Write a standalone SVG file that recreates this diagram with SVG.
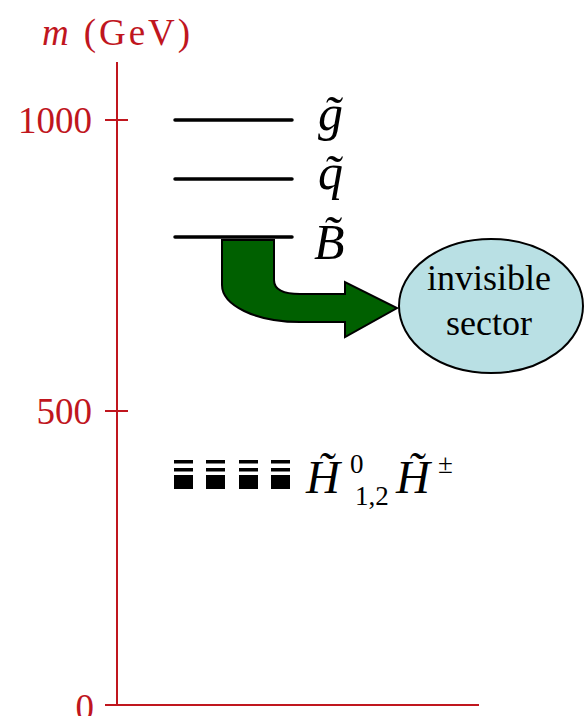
<svg xmlns="http://www.w3.org/2000/svg" width="585" height="716" viewBox="0 0 585 716">
<style>
.ax{stroke:#c0161e;stroke-width:2;fill:none}
.axt{fill:#c0161e;font-family:"Liberation Serif",serif;font-size:37px}
.lvl{stroke:#000;stroke-width:3.5;stroke-linecap:round}
.lab{fill:#000;font-family:"Liberation Serif",serif;font-style:italic;font-size:50px}
.hl{fill:#000;font-family:"Liberation Serif",serif;font-style:italic;font-size:47px}
.sc{fill:#000;font-family:"Liberation Serif",serif;font-size:27px}
.inv{fill:#000;font-family:"Liberation Serif",serif;font-size:36px;text-anchor:middle}
</style>
<rect width="585" height="716" fill="#fff"/>
<g id="axis">
<line class="ax" x1="117" y1="62" x2="117" y2="705"/>
<line class="ax" x1="105" y1="705" x2="479" y2="705"/>
<line class="ax" x1="105" y1="120" x2="128" y2="120"/>
<line class="ax" x1="105" y1="411" x2="128" y2="411"/>
<text class="axt" x="42" y="45" textLength="148" lengthAdjust="spacing"><tspan font-style="italic">m</tspan> (GeV)</text>
<text class="axt" x="92" y="133" text-anchor="end">1000</text>
<text class="axt" x="92" y="424" text-anchor="end">500</text>
<text class="axt" x="94" y="720" text-anchor="end">0</text>
</g>
<g id="gluino">
<line class="lvl" x1="175" y1="120" x2="292" y2="120"/>
<text class="lab" x="318" y="130">g&#x303;</text>
</g>
<g id="squark">
<line class="lvl" x1="175" y1="179" x2="292" y2="179"/>
<text class="lab" x="318" y="189">q&#x303;</text>
</g>
<g id="bino">
<line class="lvl" x1="175" y1="237" x2="292" y2="237"/>
<text class="lab" x="314" y="259">B&#x303;</text>
</g>
<g id="higgsinos">
<g fill="#000">
<rect x="174" y="460" width="19" height="3.5"/><rect x="174" y="468" width="19" height="3.5"/><rect x="174" y="475" width="19" height="14"/>
<rect x="206" y="460" width="19" height="3.5"/><rect x="206" y="468" width="19" height="3.5"/><rect x="206" y="475" width="19" height="14"/>
<rect x="239" y="460" width="19" height="3.5"/><rect x="239" y="468" width="19" height="3.5"/><rect x="239" y="475" width="19" height="14"/>
<rect x="271" y="460" width="19" height="3.5"/><rect x="271" y="468" width="19" height="3.5"/><rect x="271" y="475" width="19" height="14"/>
</g>
<text class="hl" x="306" y="493">H&#x303;</text>
<text class="sc" x="350" y="473">0</text>
<text class="sc" x="355" y="505">1,2</text>
<text class="hl" x="396" y="493">H&#x303;</text>
<text class="sc" x="438" y="473">±</text>
</g>
<g id="invisible-sector">
<ellipse cx="491" cy="306" rx="92" ry="67" fill="#b9e0e4" stroke="#000" stroke-width="2"/>
<text class="inv" x="489" y="290">invisible</text>
<text class="inv" x="489" y="335">sector</text>
</g>
<g id="connectors">
<path d="M222,240 L274,240 L274,280 Q274,294 300,294 L345,294 L345,282 L397,308 L345,337 L345,322 L300,322 C255,322 222,305 222,285 Z" fill="#006000" stroke="#000" stroke-width="2" stroke-linejoin="miter"/>
</g>
</svg>
